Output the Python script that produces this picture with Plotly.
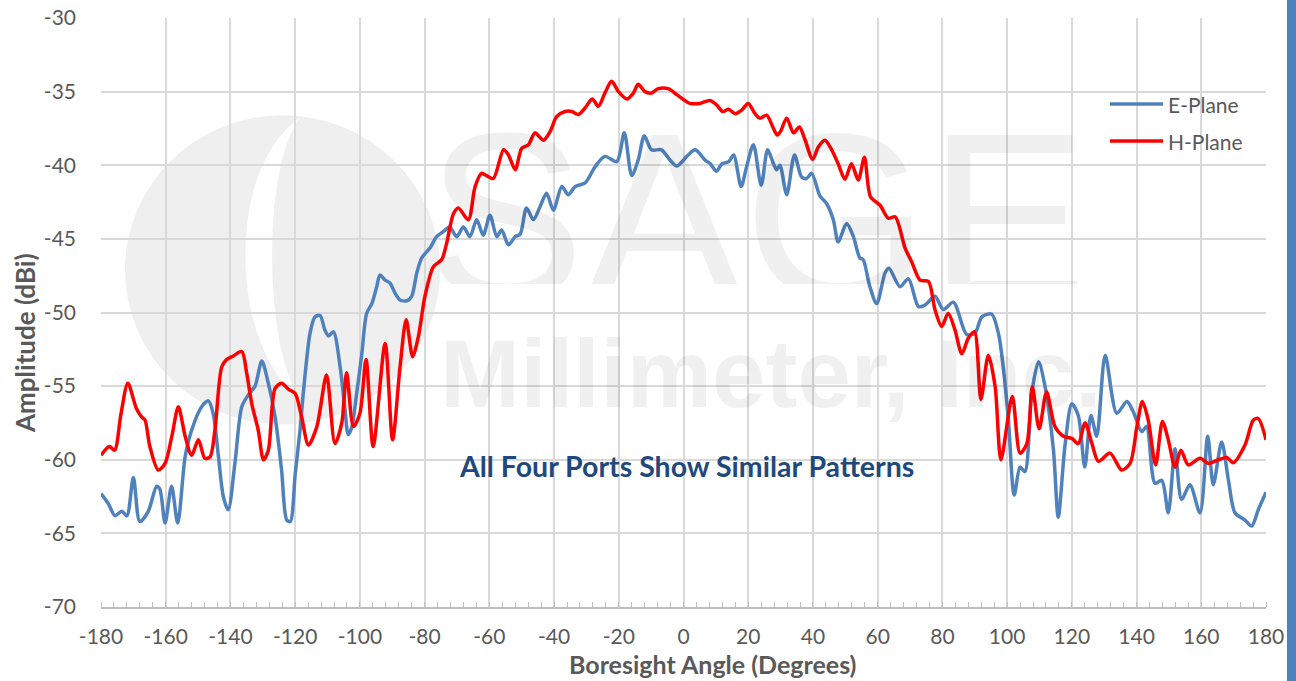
import plotly.graph_objects as go

# ---- data ----
e_angle = [-180, -177.7, -175.7, -173.6, -172, -170, -168, -165.4, -162.8, -161.8, -160.2, -158.2, -156.3,
           -154, -152, -148.9, -146.8, -145.3, -143.7, -142.2, -140.7, -138.6, -136.5, -134.5, -132.4,
           -130.3, -128.3, -126.2, -124.2, -122.6, -121.5, -120, -118.5, -117.5, -115.4, -113.9, -112.3,
           -110.8, -109.7, -108.2, -106.1, -104.6, -103.6, -102.5, -101, -99.4, -97.9, -96.3, -94.8, -93.8,
           -92.2, -90.7, -89.1, -87.6, -85.5, -84, -82.4, -80.9, -78.3, -76.3, -74.2, -72.2, -70.1, -68,
           -66, -63.9, -61.9, -59.8, -57.7, -56.2, -54.1, -52, -50.5, -48.5, -46.4, -44.3, -42.3, -40.2,
           -37.6, -35.6, -33.5, -30.4, -27.3, -24.3, -20.6, -18.3, -16, -14, -12.1, -9.9, -6.8, -4.7,
           -2.1, 1, 3.6, 6.7, 8.3, 10.2, 11.9, 14, 15.5, 17.8, 19.5, 21.6, 24, 26, 27.8, 28.8, 29.8,
           31.9, 34.3, 36.5, 38, 39.6, 42.2, 44.2, 46.3, 47.8, 50.4, 52.5, 54.5, 55.5, 57.6, 59.7, 62.3,
           63.5, 66.9, 69.5, 72.6, 74.6, 77.7, 80.3, 83.4, 87.5, 90.1, 92.2, 95.2, 97.3, 98.8, 100.4,
           102.2, 104, 105.5, 107.6, 109.7, 111.7, 114.3, 115.8, 117.9, 120, 122, 124, 125.9, 127.7,
           130.3, 133.9, 137, 139, 141.6, 143.1, 145.7, 147.8, 149.8, 151.9, 153.9, 156.5, 159.6, 162,
           163.7, 166.3, 168.4, 170.4, 173.5, 175.6, 177.6, 180]
e_plane = [-62.3, -63.0, -63.8, -63.5, -63.8, -61.2, -64.2, -63.5, -61.8, -62.0, -64.3, -61.8, -64.3,
           -59.8, -58.0, -56.4, -56.0, -56.9, -59.8, -62.5, -63.4, -60.2, -56.4, -55.6, -55.0,
           -53.3, -54.8, -57.1, -60.7, -64.1, -64.2, -61.0, -58.0, -55.5, -51.4, -50.3, -50.2,
           -51.2, -51.6, -51.3, -53.7, -56.6, -58.3, -57.8, -55.5, -52.8, -50.05, -49.4, -48.25, -47.45,
           -47.8, -48.0, -48.7, -49.15, -49.2, -48.9, -47.3, -46.3, -45.6, -44.85, -44.5, -44.2, -44.85, -44.2,
           -44.85, -43.7, -44.75, -43.4, -44.85, -44.4, -45.4, -44.85, -44.7, -42.9, -43.7, -42.8, -41.9, -43.05,
           -41.45, -42.0, -41.45, -41.2, -40.1, -39.4, -39.75, -37.8, -40.7, -39.65, -38.0, -38.95, -38.95, -39.5,
           -40.05, -39.4, -38.95, -39.65, -39.9, -40.4, -39.9, -39.75, -39.3, -41.45, -40.1, -38.6, -41.35, -38.95, -39.9, -40.3, -40.0,
           -42.0, -39.3, -40.8, -40.9, -40.55, -42.1, -42.6, -43.7, -45.2, -43.95, -44.85, -46.3, -46.4, -48.25, -49.4, -47.3,
           -47.0, -48.25, -47.7, -49.6, -49.5, -48.9, -49.8, -49.3, -51.5, -51.4, -50.3, -50.1, -51.4, -53.7, -57.3,
           -62.4, -60.5, -60.8, -55.5, -53.35, -55.0, -59.3, -63.9, -59.0, -56.2, -57.0, -60.5, -57.0, -58.4,
           -52.9, -56.85, -56.05, -56.75, -58.1, -57.75, -61.6, -61.4, -63.6, -59.25, -62.7, -61.7, -63.6, -58.4,
           -61.7, -58.8, -61.4, -63.6, -64.1, -64.5, -63.4, -62.2]

h_angle = [-180, -177.4, -175.8, -173.8, -171.7, -169.1, -167.4, -166.4, -164.9, -162.3, -160.2, -158.1,
           -156.1, -154, -152, -149.9, -147.9, -146.3, -144.8, -142.7, -141.2, -139.1, -136.5, -135,
           -133.4, -131.4, -129.8, -128.3, -126.2, -124.2, -122.1, -120, -118, -115.9, -113.3, -110.3,
           -107.7, -105.6, -104.1, -102, -100, -98.1, -95.9, -92.2, -89.9, -87.6, -85.7, -83.7, -81.9,
           -79.9, -77.3, -74.7, -73.2, -71.1, -69.6, -66.5, -64.4, -62.4, -61.3, -58.8, -55.6, -54.1, -52,
           -50, -47.9, -45.9, -43.3, -41.2, -39.2, -36.6, -34.5, -32.5, -30.4, -28.2, -26.3, -24.3,
           -22.2, -20.1, -17.5, -15.5, -14, -11.9, -9.9, -7.8, -4.7, -2.1, 0.4, 2, 5.1, 8.2, 10.2,
           12.1, 13.9, 16, 18, 20, 22.1, 23.6, 25.7, 27.8, 29, 30, 31.9, 34, 35.8, 37.6, 39.9, 41.7,
           43.7, 45.8, 47.8, 49.9, 51.9, 54, 55.9, 57.8, 60.7, 63.3, 65.4, 68.5, 70.5, 73.1, 75.7, 77.7,
           79.8, 81.8, 83.9, 86, 88, 89.9, 91.9, 94.2, 96.3, 98.1, 101.6, 104, 106.1, 107.8, 109.9,
           112.2, 114.8, 117.4, 120, 122, 124.1, 126.2, 128.2, 131.8, 135.4, 138, 140.1, 141.8, 143.6,
           145.9, 148, 149.8, 151.9, 153.7, 156, 159.6, 162.2, 165.3, 167.9, 169.9, 173.5, 176.1,
           177.6, 180]
h_plane = [-59.7, -59.1, -59.35, -56.85, -54.8, -56.5, -57.1, -57.3, -59.1, -60.7, -60.25, -58.4,
           -56.4, -58.4, -59.7, -58.65, -59.9, -59.8, -58.0, -53.7, -53.2, -52.95, -52.65, -54.1,
           -56.2, -58.0, -60.0, -59.35, -55.15, -54.8, -55.2, -55.5, -57.1, -59.0, -57.75, -54.25,
           -58.9, -57.5, -54.1, -57.75, -56.85, -53.2, -59.1, -52.1, -58.65, -53.7, -50.5, -53.0, -51.6,
           -48.9, -46.9, -46.4, -45.3, -43.3, -42.9, -43.7, -41.45, -40.55, -40.65, -40.9, -38.95, -39.3, -40.3,
           -38.85, -38.6, -37.8, -38.3, -37.7, -36.7, -36.35, -36.35, -36.55, -36.1, -35.5, -36.0, -35.1,
           -34.3, -35.0, -35.5, -35.1, -34.5, -35.0, -35.1, -34.8, -34.8, -35.2, -35.6, -35.8, -35.8, -35.6, -35.9,
           -36.35, -36.2, -36.5, -36.25, -35.8, -36.5, -36.8, -36.6, -37.5, -37.95, -37.7, -36.8, -37.8, -37.4, -38.3, -39.6, -38.75,
           -38.3, -38.95, -39.9, -40.95, -39.9, -41.0, -39.45, -42.15, -42.7, -43.6, -43.5, -45.65, -46.55, -47.8, -47.9, -49.8,
           -50.95, -50.05, -51.2, -52.8, -51.75, -51.3, -55.9, -52.9, -55.05, -60.0, -55.7, -59.55, -58.9, -55.05, -57.9,
           -55.4, -57.75, -58.4, -58.55, -58.9, -57.5, -58.9, -60.1, -59.55, -60.7, -60.25, -57.75, -56.05, -57.3,
           -60.35, -57.4, -58.65, -60.5, -59.35, -60.35, -59.9, -60.25, -60.0, -59.85, -60.2, -59.0, -57.3,
           -57.2, -58.65]

x_ticks = list(range(-180, 181, 20))
x_labels = [str(v) for v in x_ticks]          # plain hyphen-minus as in the reference
y_ticks = list(range(-70, -29, 5))
y_labels = [str(v) for v in y_ticks]

series_names = ["E-Plane", "H-Plane"]
series_colors = ["#4F81BD", "#FF0000"]

FONT = "Lato, 'Open Sans', sans-serif"
GREY = "#595959"

# plot-area geometry (pixels) used to convert pixel placements to paper fractions
L, R, T, B = 101, 1266, 18, 607
W, H = R - L, B - T
def px(x): return (x - L) / W
def py(y): return 1 - (y - T) / H

fig = go.Figure()
for name, xs, ys, col in [(series_names[0], e_angle, e_plane, series_colors[0]),
                          (series_names[1], h_angle, h_plane, series_colors[1])]:
    fig.add_trace(go.Scatter(x=xs, y=ys, name=name, mode="lines", showlegend=False,
                             line=dict(color=col, width=3.5, shape="spline", smoothing=0.8)))

shapes = [
    # watermark logo (light grey disc with white swoosh)
    dict(type="circle", xref="x", yref="y", x0=-172.6, x1=-75.2, y0=-57.6, y1=-36.6,
         fillcolor="#EFEFEF", line=dict(width=0), layer="below"),
    dict(type="path", xref="x", yref="y",
         path="M -118.5,-36.8 C -141,-40 -141,-52 -118.5,-55.9 C -130,-52 -130,-40 -118.5,-36.8 Z",
         fillcolor="white", line=dict(width=0), layer="below"),
    # slide-edge accent bar at right
    dict(type="rect", xref="paper", yref="paper", x0=px(1287), x1=px(1310), y0=-0.2, y1=1.1,
         fillcolor="#4F81BD", line=dict(width=0), layer="above"),
]

annotations = [
    dict(text="SAGE", xref="paper", yref="paper", x=px(424), y=py(82), xanchor="left", yanchor="top",
         height=200, valign="top",
         showarrow=False, font=dict(family="Liberation Sans, Arial", size=238, color="rgba(0,0,0,0.06)")),
    dict(text="<b>Millimeter, Inc.</b>", xref="paper", yref="paper", x=px(438), y=py(318),
         xanchor="left", yanchor="top",
         showarrow=False, font=dict(family="Liberation Sans, Arial", size=96, color="rgba(0,0,0,0.06)")),
    dict(text="<b>All Four Ports Show Similar Patterns</b>", xref="paper", yref="paper",
         x=px(686), y=py(466), xanchor="center", yanchor="middle",
         showarrow=False, font=dict(family=FONT, size=28.5, color="#1F497D")),
    dict(text="<b>Boresight Angle (Degrees)</b>", xref="paper", yref="paper",
         x=px(712), y=py(664), xanchor="center", yanchor="middle",
         showarrow=False, font=dict(family=FONT, size=25, color=GREY)),
    dict(text="<b>Amplitude (dBi)</b>", xref="paper", yref="paper", textangle=-90,
         x=px(25), y=py(343), xanchor="center", yanchor="middle",
         showarrow=False, font=dict(family=FONT, size=26, color=GREY)),
]

# manual legend (line sample + label) placed like the reference
for name, col, yy in [(series_names[0], series_colors[0], 104), (series_names[1], series_colors[1], 141)]:
    shapes.append(dict(type="line", xref="paper", yref="paper", x0=px(1110), x1=px(1163),
                       y0=py(yy), y1=py(yy), line=dict(color=col, width=3.5), layer="above"))
    annotations.append(dict(text=name, xref="paper", yref="paper", x=px(1166), y=py(yy),
                            xanchor="left", yanchor="middle", showarrow=False,
                            font=dict(family=FONT, size=21, color=GREY)))

fig.update_layout(
    width=1296, height=681,
    margin=dict(l=L, r=1296 - R, t=T, b=681 - B, autoexpand=False),
    paper_bgcolor="white", plot_bgcolor="white",
    font=dict(family=FONT, size=21, color=GREY),
    showlegend=False,
    shapes=shapes,
    annotations=annotations,
)
fig.update_xaxes(range=[-180, 180], tickvals=x_ticks, ticktext=x_labels, automargin=False,
                 showgrid=True, gridcolor="#D9D9D9", gridwidth=1.5,
                 showline=True, linecolor="#BFBFBF", linewidth=1.5, zeroline=False,
                 ticks="", ticklabelstandoff=10,
                 minor=dict(dtick=4, tick0=-180, ticks="inside", ticklen=5, tickcolor="#BFBFBF", showgrid=False),
                 tickfont=dict(family=FONT, size=21, color=GREY))
fig.update_yaxes(range=[-70, -30], tickvals=y_ticks, ticktext=y_labels, automargin=False,
                 showgrid=True, gridcolor="#D9D9D9", gridwidth=1.5,
                 showline=False, zeroline=False, ticks="", ticklabelstandoff=24,
                 tickfont=dict(family=FONT, size=21, color=GREY))

fig.write_html("out.html", config={"displayModeBar": False},
               post_script="document.body.style.margin='0';document.body.style.overflow='hidden';")
